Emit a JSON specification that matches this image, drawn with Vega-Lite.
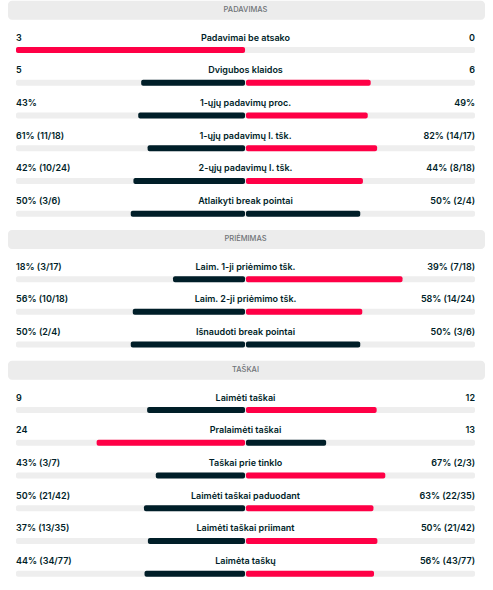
{
  "$schema": "https://vega.github.io/schema/vega-lite/v6.json",
  "width": 493,
  "height": 590,
  "padding": 0,
  "autosize": {"type": "fit", "contains": "padding"},
  "background": "#ffffff",
  "config": {"view": {"stroke": null}, "font": "Inter"},
  "data": {
    "values": [
      {"row": "PADAVIMAS", "kind": "header"},
      {"row": "Padavimai be atsako", "kind": "stat", "lv": 3, "rv": 0, "lt": "3", "rt": "0"},
      {"row": "Dvigubos klaidos", "kind": "stat", "lv": 5, "rv": 6, "lt": "5", "rt": "6"},
      {"row": "1-ųjų padavimų proc.", "kind": "stat", "lv": 43, "rv": 49, "lt": "43%", "rt": "49%"},
      {"row": "1-ųjų padavimų l. tšk.", "kind": "stat", "lv": 61, "rv": 82, "lt": "61% (11/18)", "rt": "82% (14/17)"},
      {"row": "2-ųjų padavimų l. tšk.", "kind": "stat", "lv": 42, "rv": 44, "lt": "42% (10/24)", "rt": "44% (8/18)"},
      {"row": "Atlaikyti break pointai", "kind": "stat", "lv": 50, "rv": 50, "lt": "50% (3/6)", "rt": "50% (2/4)"},
      {"row": "PRIĖMIMAS", "kind": "header"},
      {"row": "Laim. 1-ji priėmimo tšk.", "kind": "stat", "lv": 18, "rv": 39, "lt": "18% (3/17)", "rt": "39% (7/18)"},
      {"row": "Laim. 2-ji priėmimo tšk.", "kind": "stat", "lv": 56, "rv": 58, "lt": "56% (10/18)", "rt": "58% (14/24)"},
      {"row": "Išnaudoti break pointai", "kind": "stat", "lv": 50, "rv": 50, "lt": "50% (2/4)", "rt": "50% (3/6)"},
      {"row": "TAŠKAI", "kind": "header"},
      {"row": "Laimėti taškai", "kind": "stat", "lv": 9, "rv": 12, "lt": "9", "rt": "12"},
      {"row": "Pralaimėti taškai", "kind": "stat", "lv": 24, "rv": 13, "lt": "24", "rt": "13"},
      {"row": "Taškai prie tinklo", "kind": "stat", "lv": 43, "rv": 67, "lt": "43% (3/7)", "rt": "67% (2/3)"},
      {"row": "Laimėti taškai paduodant", "kind": "stat", "lv": 50, "rv": 63, "lt": "50% (21/42)", "rt": "63% (22/35)"},
      {"row": "Laimėti taškai priimant", "kind": "stat", "lv": 37, "rv": 50, "lt": "37% (13/35)", "rt": "50% (21/42)"},
      {"row": "Laimėta taškų", "kind": "stat", "lv": 44, "rv": 56, "lt": "44% (34/77)", "rt": "56% (43/77)"}
    ]
  },
  "transform": [
    {"calculate": "datum.kind === 'stat' ? -datum.lv / (datum.lv + datum.rv) : 0", "as": "nls"},
    {"calculate": "datum.kind === 'stat' ? datum.rv / (datum.lv + datum.rv) : 0", "as": "rs"},
    {"calculate": "-1", "as": "xl"},
    {"calculate": "0", "as": "xc"},
    {"calculate": "1", "as": "xr"},
    {"calculate": "-0.002", "as": "gl"},
    {"calculate": "0.002", "as": "gr"},
    {"calculate": "-1.035", "as": "hl"},
    {"calculate": "1.0436", "as": "hr"}
  ],
  "encoding": {
    "y": {"field": "row", "type": "nominal", "axis": null,
          "sort": ["PADAVIMAS", "Padavimai be atsako", "Dvigubos klaidos", "1-ųjų padavimų proc.", "1-ųjų padavimų l. tšk.", "2-ųjų padavimų l. tšk.", "Atlaikyti break pointai", "PRIĖMIMAS", "Laim. 1-ji priėmimo tšk.", "Laim. 2-ji priėmimo tšk.", "Išnaudoti break pointai", "TAŠKAI", "Laimėti taškai", "Pralaimėti taškai", "Taškai prie tinklo", "Laimėti taškai paduodant", "Laimėti taškai priimant", "Laimėta taškų"],
          "scale": {"paddingInner": 0, "paddingOuter": 0}}
  },
  "layer": [
    {
      "transform": [{"filter": "datum.kind === 'header'"}],
      "mark": {"type": "bar", "height": 19, "yOffset": -7, "cornerRadius": 4, "color": "#ececec"},
      "encoding": {
        "x": {"field": "hl", "type": "quantitative", "axis": null, "scale": {"domain": [-1.0697, 1.0784], "nice": false, "zero": false}},
        "x2": {"field": "hr"}
      }
    },
    {
      "transform": [{"filter": "datum.kind === 'header'"}],
      "mark": {"type": "text", "dy": -7, "fontSize": 7.5, "fontWeight": 500, "color": "#6f7377", "align": "center", "baseline": "middle"},
      "encoding": {
        "x": {"field": "xc", "type": "quantitative"},
        "text": {"field": "row"}
      }
    },
    {
      "transform": [{"filter": "datum.kind === 'stat'"}],
      "mark": {"type": "bar", "height": 6, "cornerRadius": 2, "color": "#eeeeee"},
      "encoding": {
        "x": {"field": "xl", "type": "quantitative"},
        "x2": {"field": "xr"}
      }
    },
    {
      "transform": [{"filter": "datum.kind === 'stat' && datum.lv > 0"}],
      "mark": {"type": "bar", "height": 6, "cornerRadius": 2},
      "encoding": {
        "x": {"field": "nls", "type": "quantitative"},
        "x2": {"field": "gl"},
        "color": {"condition": {"test": "datum.lv > datum.rv", "value": "#ff0046"}, "value": "#001e28"}
      }
    },
    {
      "transform": [{"filter": "datum.kind === 'stat' && datum.rv > 0"}],
      "mark": {"type": "bar", "height": 6, "cornerRadius": 2},
      "encoding": {
        "x": {"field": "gr", "type": "quantitative"},
        "x2": {"field": "rs"},
        "color": {"condition": {"test": "datum.rv > datum.lv", "value": "#ff0046"}, "value": "#001e28"}
      }
    },
    {
      "transform": [{"filter": "datum.kind === 'stat'"}],
      "mark": {"type": "text", "dy": -12.5, "fontSize": 9, "fontWeight": 600, "color": "#001e28", "align": "left", "baseline": "middle"},
      "encoding": {
        "x": {"field": "xl", "type": "quantitative"},
        "text": {"field": "lt"}
      }
    },
    {
      "transform": [{"filter": "datum.kind === 'stat'"}],
      "mark": {"type": "text", "dy": -12.5, "fontSize": 9, "fontWeight": 600, "color": "#001e28", "align": "center", "baseline": "middle"},
      "encoding": {
        "x": {"field": "xc", "type": "quantitative"},
        "text": {"field": "row"}
      }
    },
    {
      "transform": [{"filter": "datum.kind === 'stat'"}],
      "mark": {"type": "text", "dy": -12.5, "fontSize": 9, "fontWeight": 600, "color": "#001e28", "align": "right", "baseline": "middle"},
      "encoding": {
        "x": {"field": "xr", "type": "quantitative"},
        "text": {"field": "rt"}
      }
    }
  ]
}
